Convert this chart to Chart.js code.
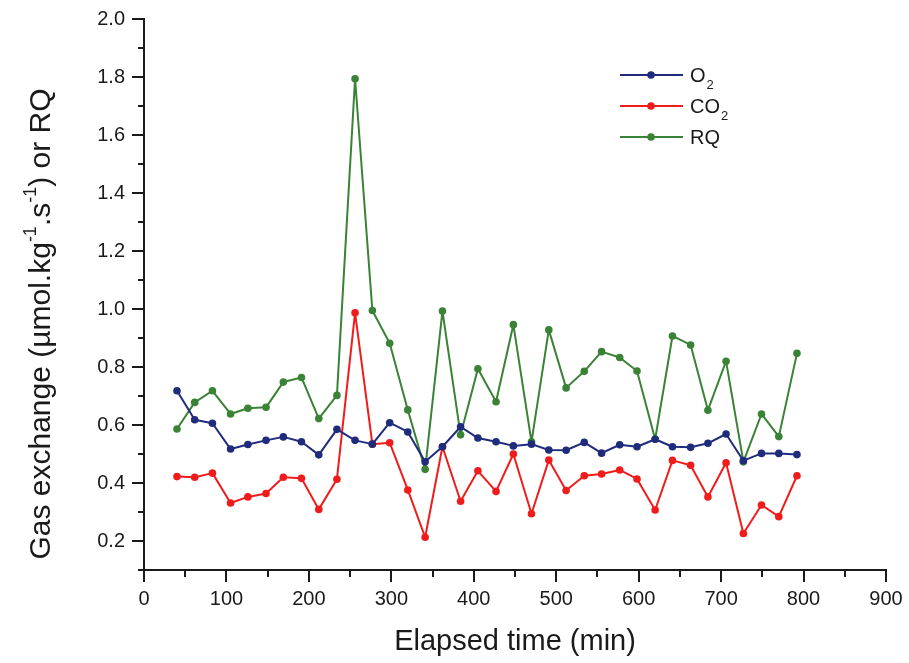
<!DOCTYPE html>
<html>
<head>
<meta charset="utf-8">
<script src="https://cdn.jsdelivr.net/npm/chart.js@4/dist/chart.umd.min.js"></script>
<style>
  html, body { margin: 0; padding: 0; background: #fff; }
  #wrap { width: 909px; height: 663px; }
</style>
</head>
<body>
<div id="wrap"><canvas id="gas-chart" width="909" height="663"></canvas></div>
<script>
// ─── Data ──────────────────────────────────────────────────────

const elapsedMin = [40, 61.5, 83, 105, 126, 148, 169, 191, 212, 234,
                    256, 277, 298, 320, 341, 362, 384, 405, 427, 448,
                    470, 491, 512, 534, 555, 577, 598, 620, 641, 663,
                    684, 706, 727, 749, 770, 792];

const o2Values  = [0.718, 0.618, 0.606, 0.517, 0.533, 0.547, 0.559, 0.542, 0.497, 0.585,
                   0.547, 0.534, 0.608, 0.576, 0.473, 0.525, 0.594, 0.555, 0.542, 0.528,
                   0.534, 0.514, 0.513, 0.540, 0.503, 0.532, 0.525, 0.551, 0.525, 0.523,
                   0.537, 0.569, 0.477, 0.502, 0.502, 0.498];

const co2Values = [0.422, 0.420, 0.434, 0.331, 0.352, 0.364, 0.420, 0.416, 0.309, 0.413,
                   0.987, 0.534, 0.539, 0.376, 0.213, 0.525, 0.337, 0.442, 0.371, 0.500,
                   0.294, 0.479, 0.374, 0.425, 0.431, 0.445, 0.414, 0.307, 0.478, 0.461,
                   0.352, 0.470, 0.226, 0.324, 0.284, 0.425];

const rqValues  = [0.586, 0.678, 0.718, 0.638, 0.658, 0.661, 0.748, 0.764, 0.622, 0.702,
                   1.794, 0.995, 0.882, 0.652, 0.447, 0.993, 0.566, 0.794, 0.680, 0.946,
                   0.542, 0.928, 0.728, 0.785, 0.853, 0.833, 0.786, 0.551, 0.907, 0.876,
                   0.651, 0.820, 0.473, 0.638, 0.560, 0.847];

const yTicks      = [0.2, 0.4, 0.6, 0.8, 1.0, 1.2, 1.4, 1.6, 1.8, 2.0];
const yMinorTicks = [0.1, 0.3, 0.5, 0.7, 0.9, 1.1, 1.3, 1.5, 1.7, 1.9];
const xMinorTicks = [50, 150, 250, 350, 450, 550, 650, 750, 850];

const series = [
    { name: 'O', sub: '2', values: o2Values,  color: '#1f2c7c' },
    { name: 'CO', sub: '2', values: co2Values, color: '#f01c1c' },
    { name: 'RQ', sub: '', values: rqValues,  color: '#3a8236' }
];

const FONT = '"Liberation Sans", Arial, sans-serif';
const INK = '#1a1a1a';

// ─── Extra drawing: minor ticks, titles with super/subscripts, legend ──

const decorations = {
    id: 'decorations',
    afterDraw(chart) {
        const ctx = chart.ctx;
        const xs = chart.scales.x, ys = chart.scales.y;
        const area = chart.chartArea;

        ctx.save();
        ctx.strokeStyle = INK;
        ctx.lineWidth = 2;
        ctx.beginPath();
        yMinorTicks.forEach(v => {
            const py = Math.round(ys.getPixelForValue(v));
            ctx.moveTo(area.left, py);
            ctx.lineTo(area.left - 6, py);
        });
        xMinorTicks.forEach(v => {
            const px = Math.round(xs.getPixelForValue(v));
            ctx.moveTo(px, area.bottom);
            ctx.lineTo(px, area.bottom + 7);
        });
        ctx.stroke();

        ctx.fillStyle = INK;

        // x title
        ctx.font = '29px ' + FONT;
        ctx.textAlign = 'center';
        ctx.textBaseline = 'alphabetic';
        ctx.fillText('Elapsed time (min)', 515, 650);

        // y title, rotated, with two superscripts
        const parts = [
            { t: 'Gas exchange (\u00b5mol.kg', sup: false },
            { t: '-1', sup: true },
            { t: '.s', sup: false },
            { t: '-1', sup: true },
            { t: ') or RQ', sup: false }
        ];
        const bigFont = '30px ' + FONT, smallFont = '18px ' + FONT;
        let total = 0;
        parts.forEach(p => {
            ctx.font = p.sup ? smallFont : bigFont;
            p.w = ctx.measureText(p.t).width;
            total += p.w;
        });
        ctx.translate(50, 324);
        ctx.rotate(-Math.PI / 2);
        ctx.textAlign = 'left';
        let cx = -total / 2;
        parts.forEach(p => {
            ctx.font = p.sup ? smallFont : bigFont;
            ctx.fillText(p.t, cx, p.sup ? -14 : 0);
            cx += p.w;
        });
        ctx.setTransform(1, 0, 0, 1, 0, 0);

        // legend
        const rowY = [75, 106, 137];
        series.forEach((s, i) => {
            const y = rowY[i];
            ctx.strokeStyle = s.color;
            ctx.lineWidth = 2;
            ctx.beginPath();
            ctx.moveTo(620, y);
            ctx.lineTo(683, y);
            ctx.stroke();
            ctx.fillStyle = s.color;
            ctx.beginPath();
            ctx.arc(651, y, 3.8, 0, Math.PI * 2);
            ctx.fill();

            ctx.fillStyle = INK;
            ctx.font = '20px ' + FONT;
            ctx.textAlign = 'left';
            ctx.textBaseline = 'alphabetic';
            ctx.fillText(s.name, 690, y + 7);
            if (s.sub) {
                const w = ctx.measureText(s.name).width;
                ctx.font = '13px ' + FONT;
                ctx.fillText(s.sub, 690 + w + 1, y + 14);
            }
        });
        ctx.restore();
    }
};

// ─── Chart ─────────────────────────────────────────────────────

const axisGrid = {
    display: true,
    drawOnChartArea: false,
    drawTicks: true,
    tickLength: 12,
    color: INK,
    lineWidth: 2
};

new Chart(document.getElementById('gas-chart'), {
    type: 'scatter',
    data: {
        datasets: series.map(s => ({
            label: s.name + s.sub,
            data: elapsedMin.map((x, i) => ({ x, y: s.values[i] })),
            showLine: true,
            borderColor: s.color,
            backgroundColor: s.color,
            borderWidth: 2,
            borderJoinStyle: 'round',
            pointRadius: 3.8,
            pointBorderWidth: 0,
            pointBackgroundColor: s.color,
            tension: 0
        }))
    },
    options: {
        responsive: false,
        animation: false,
        devicePixelRatio: 1,
        layout: { padding: { top: 19, right: 23, left: 0, bottom: 0 } },
        plugins: {
            legend: { display: false },
            title: { display: false },
            tooltip: { enabled: false }
        },
        scales: {
            x: {
                type: 'linear',
                min: 0,
                max: 900,
                ticks: {
                    stepSize: 100,
                    color: INK,
                    padding: 5,
                    font: { family: FONT, size: 20 }
                },
                grid: axisGrid,
                border: { display: true, color: INK, width: 2 },
                afterFit(scale) { scale.height = 93; }
            },
            y: {
                type: 'linear',
                min: 0.1,
                max: 2.0,
                afterBuildTicks(scale) {
                    scale.ticks = yTicks.map(v => ({ value: v }));
                },
                ticks: {
                    color: INK,
                    padding: 7,
                    font: { family: FONT, size: 20 },
                    callback: v => Number(v).toFixed(1)
                },
                grid: axisGrid,
                border: { display: true, color: INK, width: 2 },
                afterFit(scale) { scale.width = 144; }
            }
        }
    },
    plugins: [decorations]
});
</script>
</body>
</html>
